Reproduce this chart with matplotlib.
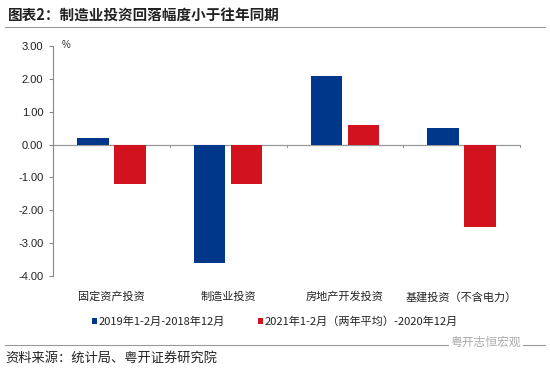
import matplotlib
matplotlib.use("Agg")
import matplotlib.pyplot as plt
import numpy as np
from matplotlib.patches import Patch
from matplotlib.lines import Line2D
import matplotlib.transforms as mtrans

plt.rcParams['font.family'] = ['Noto Sans CJK SC', 'DejaVu Sans']

categories = ["固定资产投资", "制造业投资", "房地产开发投资", "基建投资（不含电力）"]
series_names = ["2019年1-2月-2018年12月", "2021年1-2月（两年平均）-2020年12月"]
s2019 = [0.2, -3.6, 2.1, 0.5]
s2021 = [-1.2, -1.2, 0.6, -2.5]
yticks = [3.0, 2.0, 1.0, 0.0, -1.0, -2.0, -3.0, -4.0]

blue = "#00378B"
red = "#D2121E"

fig = plt.figure(figsize=(5.5, 3.72), dpi=100)
ax = fig.add_axes([53/550, 1-276/372, (520-53)/550, 230/372])

x = np.arange(len(categories))
w = 0.27
off = 0.158
ax.bar(x - off, s2019, w, color=blue, zorder=3)
ax.bar(x + off, s2021, w, color=red, zorder=3)

ax.set_xlim(-0.5, len(categories) - 0.5)
ax.set_ylim(-4.0, 3.0)
ax.set_yticks(yticks)
ax.set_yticklabels([f"{v:.2f}" for v in yticks], fontsize=8, color="#222222",
                   family=['Liberation Sans', 'DejaVu Sans'])
ax.tick_params(axis='y', length=3, width=0.8, color="#888888", pad=4)

for s in ["top", "right", "bottom"]:
    ax.spines[s].set_visible(False)
ax.spines["left"].set_color("#888888")
ax.spines["left"].set_linewidth(0.8)

# zero line with ticks at category boundaries
ax.axhline(0, color="#999999", lw=0.9, zorder=2)
ax.set_xticks([])
for b in np.arange(0.5, len(categories), 1.0):
    ax.plot([b, b], [0, -0.08], color="#999999", lw=0.8, zorder=2, clip_on=False)

# category labels
tr = mtrans.blended_transform_factory(ax.transData, ax.transAxes)
for i, c in enumerate(categories):
    ax.text(i, -0.091, c, transform=tr, ha="center", va="center", fontsize=8, color="#222222")

ax.text(62/550, 1-45/372, "%", transform=fig.transFigure, fontsize=7, color="#333333",
        ha="left", va="center", family=['Liberation Sans', 'DejaVu Sans'])

# legend
handles = [Patch(facecolor=blue), Patch(facecolor=red)]
leg = fig.legend(handles, series_names, loc="center", bbox_to_anchor=(0.5, 1-322/372),
                 ncol=2, frameon=False, fontsize=8, handlelength=0.45, handleheight=0.45,
                 handletextpad=0.1, columnspacing=3.0)
for t in leg.get_texts():
    t.set_color("#222222")

# title
fig.text(8/550, 1-15/372, "图表2：制造业投资回落幅度小于往年同期", fontsize=10.5, fontweight="bold",
         color="#222222", ha="left", va="center")
fig.add_artist(Line2D([5/550, 1-5/550], [1-27/372, 1-27/372], color="#999999", lw=0.8,
                      transform=fig.transFigure))

# footer
fig.add_artist(Line2D([5/550, 1-5/550], [1-345/372, 1-345/372], color="#999999", lw=0.8,
                      transform=fig.transFigure))
fig.text(5/550, 1-358/372, "资料来源：统计局、粤开证券研究院", fontsize=9.5, style="italic",
         color="#222222", ha="left", va="center")
fig.text(486/550, 1-342/372, "粤开志恒宏观", fontsize=8.5, color="#aaaaaa", ha="center", va="center",
         bbox=dict(facecolor="white", edgecolor="none", pad=1))

fig.savefig("out.png", dpi=100)
